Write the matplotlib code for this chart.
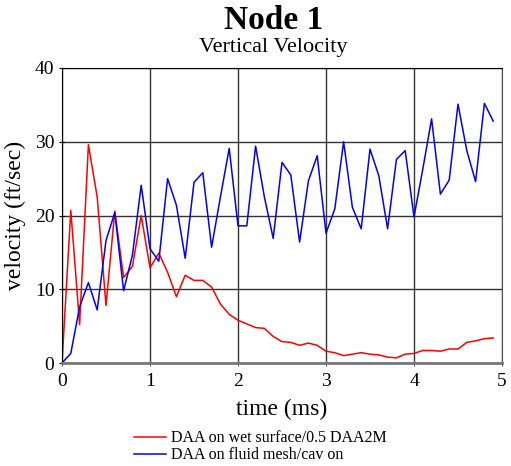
import numpy as np
import matplotlib.pyplot as plt
from matplotlib.lines import Line2D

# ---------------------------------------------------------
# DATA
# ---------------------------------------------------------
time_ms = np.round(np.arange(0.0, 4.95, 0.1), 1)

vel_wet_surface = [
    0.0, 20.7, 5.2, 29.6, 22.5, 7.8, 20.6, 11.6, 13.1, 20.0,
    12.9, 14.9, 12.3, 9.0, 11.9, 11.2, 11.2, 10.3, 8.0, 6.6,
    5.8, 5.3, 4.8, 4.7, 3.6, 2.9, 2.8, 2.4, 2.7, 2.4,
    1.6, 1.4, 1.0, 1.2, 1.4, 1.2, 1.1, 0.8, 0.7, 1.2,
    1.3, 1.7, 1.7, 1.6, 1.9, 1.9, 2.8, 3.0, 3.3, 3.4,
]

vel_fluid_mesh = [
    0.0, 1.3, 7.6, 10.9, 7.2, 16.6, 20.4, 9.8, 14.6, 24.1,
    15.5, 13.8, 25.0, 21.4, 14.2, 24.5, 25.8, 15.7, 22.5, 29.1,
    18.6, 18.6, 29.4, 22.5, 16.9, 27.2, 25.5, 16.4, 24.7, 28.1,
    17.6, 20.9, 30.0, 21.1, 18.2, 29.0, 25.4, 18.2, 27.6, 28.8,
    19.8, 26.3, 33.1, 22.9, 24.8, 35.1, 28.8, 24.6, 35.2, 32.8,
]

labels = ["DAA on wet surface/0.5 DAA2M", "DAA on fluid mesh/cav on"]
x_ticks = [0, 1, 2, 3, 4, 5]
y_ticks = [0, 10, 20, 30, 40]

# ---------------------------------------------------------
# FIGURE
# ---------------------------------------------------------
plt.rcParams['font.family'] = ['Liberation Serif', 'DejaVu Serif']

fig = plt.figure(figsize=(5.11, 4.66), dpi=100)
ax = fig.add_axes([62 / 511, (466 - 363) / 466, 440 / 511, 295 / 466])

ax.plot(time_ms, vel_wet_surface, color='#ff0000', lw=1.1)
ax.plot(time_ms, vel_fluid_mesh, color='#0000ff', lw=1.1)

ax.set_xlim(0, 5)
ax.set_ylim(0, 40)
ax.set_xticks(x_ticks)
ax.set_yticks(y_ticks)
ax.grid(True, color='#333333', lw=1.0)
ax.set_axisbelow(True)

ax.spines['left'].set_color('black')
ax.spines['top'].set_color('black')
ax.spines['right'].set_color('#555555')
ax.spines['bottom'].set_color('#777777')
ax.spines['bottom'].set_linewidth(2.0)
ax.tick_params(axis='both', direction='inout', length=5, labelsize=14)
ax.tick_params(axis='x', colors='#555555', labelcolor='black', pad=5)
ax.tick_params(axis='y', pad=3)

ax.set_xlabel('time (ms)', fontsize=17, labelpad=6)
ax.set_ylabel('velocity (ft/sec)', fontsize=17, labelpad=6)

fig.text(0.535, 0.956, 'Node 1', ha='center', va='center',
         fontsize=24, fontweight='bold')
fig.text(0.535, 0.897, 'Vertical Velocity', ha='center', va='center',
         fontsize=16)

handles = [Line2D([], [], color='#ff0000', lw=1.1),
           Line2D([], [], color='#0000ff', lw=1.1)]
fig.legend(handles, labels, loc='center', bbox_to_anchor=(0.51, 0.041),
           frameon=False, fontsize=11.5, handlelength=2.0,
           handletextpad=0.3, labelspacing=0.05)

fig.savefig('out.png', dpi=100)
